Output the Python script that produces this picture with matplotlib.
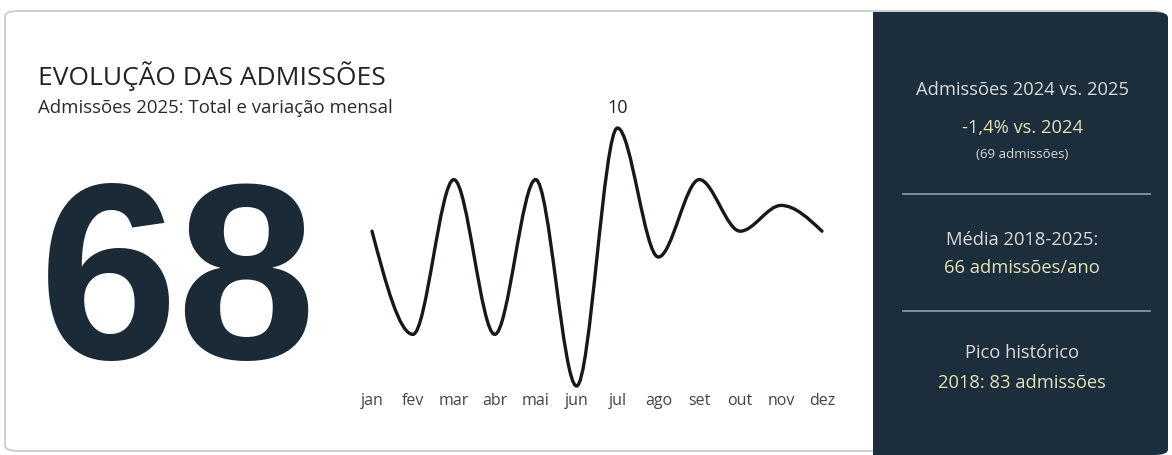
import matplotlib
matplotlib.use("Agg")
import matplotlib.pyplot as plt
from matplotlib.patches import FancyBboxPatch, Rectangle, PathPatch
from matplotlib.path import Path
from matplotlib.lines import Line2D

# ---- data ----
months = ["jan", "fev", "mar", "abr", "mai", "jun", "jul", "ago", "set", "out", "nov", "dez"]
admissions_2025 = [6, 2, 8, 2, 8, 0, 10, 5, 8, 6, 7, 6]
total_2025 = 68
title = "EVOLUÇÃO DAS ADMISSÕES"
subtitle = "Admissões 2025: Total e variação mensal"
panel_texts = [
    ("Admissões 2024 vs. 2025", "-1,4% vs. 2024", "(69 admissões)"),
    ("Média 2018-2025:", "66 admissões/ano", None),
    ("Pico histórico", "2018: 83 admissões", None),
]

W, H = 1172, 455
fig = plt.figure(figsize=(W / 100, H / 100), dpi=100)
fig.patch.set_facecolor("white")

def fx(px):
    return px / W

def fy(py):
    return 1 - py / H

# card outline
card = FancyBboxPatch((fx(5), fy(451)), fx(1165) - fx(5), fy(11) - fy(451),
                      boxstyle="round,pad=0,rounding_size=0.012",
                      transform=fig.transFigure, facecolor="white",
                      edgecolor="#c8c8cc", linewidth=1.2, zorder=-2)
fig.patches.append(card)

# dark panel
dark = "#1c2e3b"
panel = FancyBboxPatch((fx(873), fy(455)), fx(1168) - fx(873), fy(12) - fy(455),
                       boxstyle="round,pad=0,rounding_size=0.012",
                       transform=fig.transFigure, facecolor=dark,
                       edgecolor="none", zorder=-1)
fig.patches.append(panel)
fig.patches.append(Rectangle((fx(873), fy(455)), fx(900) - fx(873), fy(12) - fy(455),
                             transform=fig.transFigure, facecolor=dark,
                             edgecolor="none", zorder=-1))

txt_dark = "#1f2328"
fig.text(fx(38), fy(76), title, fontsize=19, family="Open Sans",
         color=txt_dark, va="center", ha="left")
fig.text(fx(38), fy(108), subtitle, fontsize=13.4, family="Open Sans",
         color="#2a2a2a", va="center", ha="left")
fig.text(fx(178), fy(359), str(total_2025), fontsize=180, family="Liberation Sans",
         fontweight="bold", color="#1a2a36", va="baseline", ha="center")

# ---- line chart ----
ax = fig.add_axes([fx(372), fy(386), fx(822) - fx(372), fy(128) - fy(386)])
ax.set_xlim(0, len(months) - 1)
ax.set_ylim(0, 10)
for s in ax.spines.values():
    s.set_visible(False)
ax.set_facecolor("none")
ax.set_yticks([])
ax.set_xticks(range(len(months)))
ax.set_xticklabels(months, fontsize=11.5, family="Open Sans", color="#444444")
ax.tick_params(axis="x", length=0, pad=5)

# monotone cubic (like d3 curveMonotoneX) tangents
ys = admissions_2025
n = len(ys)
sl = [ys[i + 1] - ys[i] for i in range(n - 1)]
t = [0.0] * n
for i in range(1, n - 1):
    if sl[i - 1] * sl[i] <= 0:
        t[i] = 0.0
    else:
        t[i] = 2 / (1 / sl[i - 1] + 1 / sl[i])
t[0] = (3 * sl[0] - t[1]) / 2
t[-1] = (3 * sl[-1] - t[-2]) / 2
verts = [(0, ys[0])]
codes = [Path.MOVETO]
for i in range(n - 1):
    verts += [(i + 1 / 3, ys[i] + t[i] / 3), (i + 1 - 1 / 3, ys[i + 1] - t[i + 1] / 3), (i + 1, ys[i + 1])]
    codes += [Path.CURVE4] * 3
ax.add_patch(PathPatch(Path(verts, codes), facecolor="none", edgecolor="#161a16",
                       linewidth=2.4, clip_on=False, capstyle="round"))

imax = ys.index(max(ys))
ax.annotate(str(ys[imax]), (imax, ys[imax]), xytext=(0, 8), textcoords="offset points",
            ha="center", va="bottom", fontsize=13, family="Open Sans", color="#222222")

# ---- right panel text ----
cx = fx(1022)
light = "#d9dadb"
yellow = "#e3e2b8"
fs = 13.2
fig.text(cx, fy(90), panel_texts[0][0], fontsize=fs, family="Open Sans", color=light, ha="center", va="center")
fig.text(cx, fy(128), panel_texts[0][1], fontsize=fs, family="Open Sans", color=yellow, ha="center", va="center")
fig.text(cx, fy(155), panel_texts[0][2], fontsize=9.5, family="Open Sans", color=light, ha="center", va="center")
fig.text(cx, fy(240), panel_texts[1][0], fontsize=fs, family="Open Sans", color=light, ha="center", va="center")
fig.text(cx, fy(268), panel_texts[1][1], fontsize=fs, family="Open Sans", color=yellow, ha="center", va="center")
fig.text(cx, fy(353), panel_texts[2][0], fontsize=fs, family="Open Sans", color=light, ha="center", va="center")
fig.text(cx, fy(383), panel_texts[2][1], fontsize=fs, family="Open Sans", color=yellow, ha="center", va="center")
for yy in (194, 311):
    fig.add_artist(Line2D([fx(903), fx(1150)], [fy(yy), fy(yy)], color="#8fa0aa",
                          linewidth=1.2, transform=fig.transFigure))

fig.savefig("out.png", dpi=100, facecolor="white")
